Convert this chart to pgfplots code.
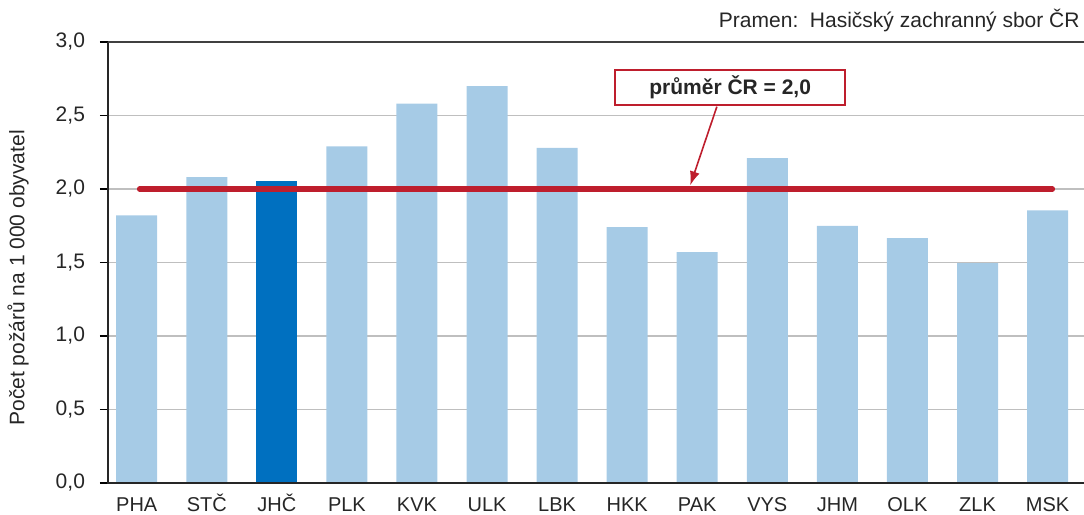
\documentclass[border=0pt]{standalone}
\usepackage{pgfplots}
\pgfplotsset{compat=1.18}
\usepackage{fontspec}
\setmainfont{Liberation Sans}
\usetikzlibrary{arrows.meta}
\definecolor{barlight}{RGB}{166,203,230}
\definecolor{bardark}{RGB}{0,112,192}
\definecolor{avgred}{RGB}{190,30,45}
\definecolor{gridgray}{RGB}{191,191,191}
\begin{document}
\begin{tikzpicture}
\begin{axis}[
  at={(0,0)}, anchor=south west,
  scale only axis,
  width=488pt, height=220.5pt,
  xmin=-0.41, xmax=13.52,
  ymin=0, ymax=3,
  ytick={0,0.5,...,3},
  xtick={0,...,13},
  xticklabels={PHA,STČ,JHČ,PLK,KVK,ULK,LBK,HKK,PAK,VYS,JHM,OLK,ZLK,MSK},
  axis line style={draw=none},
  ymajorgrids,
  grid style={gridgray, line width=0.6pt},
  tick align=outside,
  ytick style={black, line width=0.6pt},
  major tick length=4pt,
  xtick style={draw=none},
  yticklabel style={xshift=-4pt, font=\fontsize{10.5}{12}\selectfont, text=black!85,
    /pgf/number format/use comma, /pgf/number format/fixed, /pgf/number format/fixed zerofill,
    /pgf/number format/precision=1, /pgf/number format/assume math mode=true},
  xticklabel style={anchor=base, inner sep=0pt, yshift=-10.3pt, font=\fontsize{10}{12}\selectfont, text=black!85},
  ylabel={Počet požárů na 1 000 obyvatel},
  ylabel style={font=\fontsize{10.5}{12}\selectfont, text=black!85, at={(axis description cs:-0.092,0.465)}, anchor=center, rotate=0},
  clip=false,
]
\addplot[ybar, bar width=20.5pt, bar shift=0pt, fill=barlight, draw=none]
  coordinates {(0,1.82) (1,2.08) (3,2.29) (4,2.58) (5,2.70) (6,2.28) (7,1.74) (8,1.57) (9,2.21) (10,1.75) (11,1.665) (12,1.495) (13,1.855)};
\addplot[ybar, bar width=20.5pt, bar shift=0pt, fill=bardark, draw=none]
  coordinates {(2,2.056)};
\addplot[avgred, line width=2.6pt, line cap=round] coordinates {(0.04,2.0) (13.07,2.0)};
\draw[black!85, line width=0.7pt] (rel axis cs:0,1) -- (rel axis cs:0,0) -- (rel axis cs:1,0);
\draw[black!75, line width=1.1pt] (rel axis cs:0,1) -- (rel axis cs:1,1);
\draw[avgred, line width=0.8pt, -{Latex[length=7pt, width=5pt]}] (axis cs:8.28,2.56) -- (axis cs:7.9,2.025);
\node[draw=avgred, line width=0.8pt, fill=white, minimum width=115pt, minimum height=17.5pt, inner sep=0pt, font=\bfseries\fontsize{10.5}{12}\selectfont, text=black!85] at (axis cs:8.47,2.69) {průměr ČR = 2,0};
\node[anchor=south east, inner sep=0pt, font=\fontsize{10.5}{12}\selectfont, text=black!85] at ([xshift=-2pt, yshift=5pt]rel axis cs:1,1) {Pramen:\ \ Hasičský zachranný sbor ČR};
\end{axis}
\pgfresetboundingbox
\path[use as bounding box] (-54pt,-16pt) rectangle (488pt,241.5pt);
\end{tikzpicture}
\end{document}
